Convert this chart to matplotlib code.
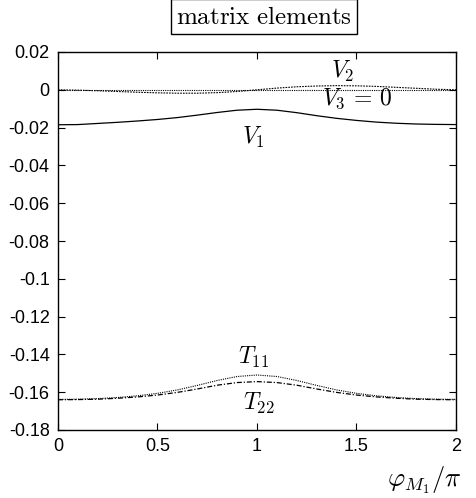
import matplotlib
matplotlib.use("Agg")
import matplotlib.pyplot as plt
from matplotlib.ticker import FixedLocator, FuncFormatter

plt.rcParams['font.family'] = ['Liberation Sans', 'DejaVu Sans']
plt.rcParams['mathtext.fontset'] = 'cm'
plt.rcParams['axes.unicode_minus'] = False

# data: phi_M1 / pi
phi = [0.0, 0.1, 0.2, 0.3, 0.4, 0.5, 0.6, 0.7, 0.8, 0.9, 1.0,
       1.1, 1.2, 1.3, 1.4, 1.5, 1.6, 1.7, 1.8, 1.9, 2.0]
V1 = [-0.0185, -0.0184, -0.0178, -0.0172, -0.0165, -0.0157, -0.0147, -0.0134, -0.0120, -0.0108, -0.0103,
      -0.0108, -0.0121, -0.0137, -0.0151, -0.0162, -0.0171, -0.0177, -0.0181, -0.0183, -0.0184]
V2 = [0.0, -0.0002, -0.0005, -0.0009, -0.0013, -0.0016, -0.0018, -0.0018, -0.0015, -0.0009, 0.0,
      0.0009, 0.0016, 0.0020, 0.0022, 0.0021, 0.0018, 0.0013, 0.0008, 0.0003, 0.0]
V3 = [0.0] * 21
T11 = [-0.1638, -0.1637, -0.1634, -0.1628, -0.1619, -0.1606, -0.1588, -0.1564, -0.1538, -0.1517, -0.1509,
       -0.1517, -0.1538, -0.1564, -0.1588, -0.1606, -0.1619, -0.1628, -0.1634, -0.1637, -0.1638]
T22 = [-0.1640, -0.1639, -0.1637, -0.1632, -0.1625, -0.1615, -0.1601, -0.1583, -0.1563, -0.1549, -0.1544,
       -0.1549, -0.1563, -0.1583, -0.1601, -0.1615, -0.1625, -0.1632, -0.1637, -0.1639, -0.1640]

xticks = [0, 0.5, 1, 1.5, 2]
yticks = [0.02, 0, -0.02, -0.04, -0.06, -0.08, -0.1, -0.12, -0.14, -0.16, -0.18]

fig = plt.figure(figsize=(4.77, 4.98), dpi=100)
ax = fig.add_axes([58/477, 1-430/498, (456-58)/477, (430-52)/498])

ax.plot(phi, V1, color='black', lw=0.9, ls='-')
ax.plot(phi, V2, color='black', lw=0.8, ls=(0, (1.5, 1)))
ax.plot(phi, V3, color='black', lw=0.8, ls=(0, (1, 1)))
ax.plot(phi, T11, color='black', lw=0.8, ls=(0, (1, 1)))
ax.plot(phi, T22, color='black', lw=0.9, ls=(0, (4, 1.5, 1, 1.5)))

ax.set_xlim(0, 2)
ax.set_ylim(-0.18, 0.02)
ax.xaxis.set_major_locator(FixedLocator(xticks))
ax.yaxis.set_major_locator(FixedLocator(yticks))
fmt = FuncFormatter(lambda v, p: '%g' % round(v, 4) if abs(v) > 1e-12 else '0')
ax.xaxis.set_major_formatter(fmt)
ax.yaxis.set_major_formatter(fmt)
ax.tick_params(direction='in', top=True, right=True, length=5, width=0.8,
               labelsize=13, pad=6)
for s in ax.spines.values():
    s.set_linewidth(1.0)

ax.text(1.43, 0.0095, r'$V_2$', fontsize=17, ha='center', va='center')
ax.text(1.50, -0.005, r'$V_3\,=\,0$', fontsize=17, ha='center', va='center')
ax.text(0.98, -0.0250, r'$V_1$', fontsize=17, ha='center', va='center')
ax.text(0.98, -0.1415, r'$T_{11}$', fontsize=17, ha='center', va='center')
ax.text(1.01, -0.1660, r'$T_{22}$', fontsize=17, ha='center', va='center')

fig.text(462/477, 1-480/498, r'$\varphi_{M_1}/\pi$', fontsize=19, ha='right', va='center')
fig.text(264/477, 1-17/498, r'$\mathrm{matrix\ elements}$', fontsize=18, ha='center', va='center',
         bbox=dict(boxstyle='square,pad=0.22', facecolor='white', edgecolor='black', lw=1.0))

fig.savefig('out.png', dpi=100)
